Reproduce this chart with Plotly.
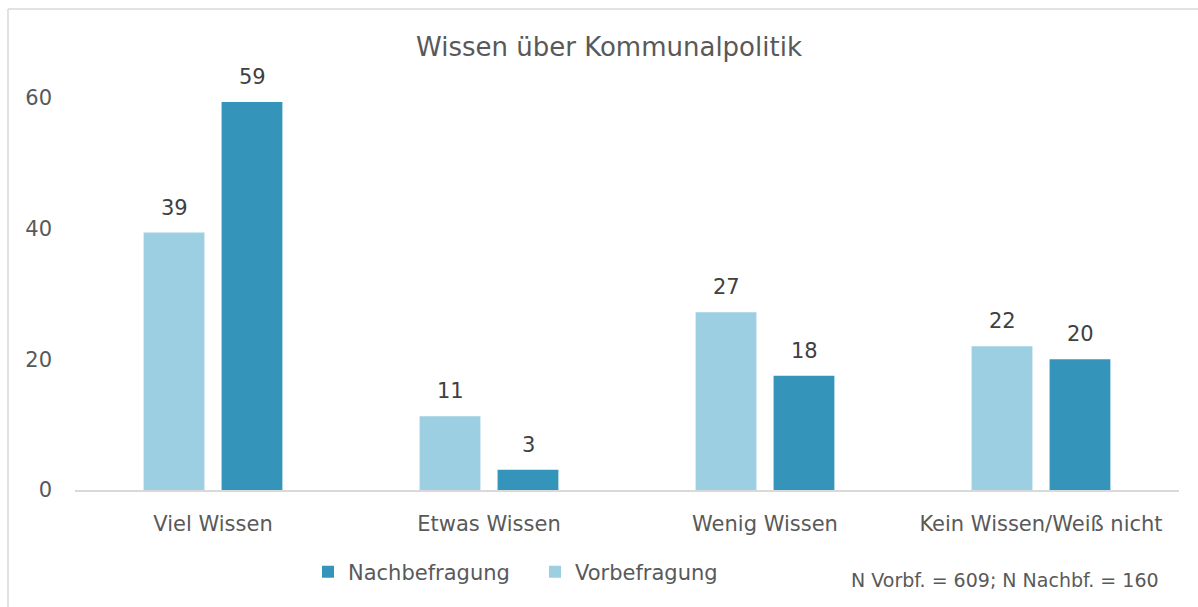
import plotly.graph_objects as go

categories = ["Viel Wissen", "Etwas Wissen", "Wenig Wissen", "Kein Wissen/Weiß nicht"]
vorbefragung = [39.4, 11.3, 27.2, 22.0]
nachbefragung = [59.4, 3.1, 17.5, 20.0]
vorb_labels = ["39", "11", "27", "22"]
nachb_labels = ["59", "3", "18", "20"]
y_ticks = [0, 20, 40, 60]

W, H = 1198, 607
L, R, T, B = 75, 19, 98, 117
PW, PH = W - L - R, H - T - B

FONT = "DejaVu Sans"
GRAY = "#595959"
DARK = "#404040"
C_VOR = "#9DCFE3"
C_NACH = "#3494BA"
LINE = "#D9D9D9"

fig = go.Figure()
fig.add_trace(go.Bar(name="Vorbefragung", x=categories, y=vorbefragung,
                     marker=dict(color=C_VOR, line=dict(width=0))))
fig.add_trace(go.Bar(name="Nachbefragung", x=categories, y=nachbefragung,
                     marker=dict(color=C_NACH, line=dict(width=0))))

def px_x(p):
    return (p - L) / PW

def px_y(p):
    return (H - B - p) / PH

annotations = []
for i, c in enumerate(categories):
    annotations.append(dict(x=c, y=vorbefragung[i], xref="x", yref="y", text=vorb_labels[i],
                            showarrow=False, xshift=-39, yshift=25, yanchor="middle",
                            font=dict(family=FONT, size=21, color=DARK)))
    annotations.append(dict(x=c, y=nachbefragung[i], xref="x", yref="y", text=nachb_labels[i],
                            showarrow=False, xshift=39, yshift=25, yanchor="middle",
                            font=dict(family=FONT, size=21, color=DARK)))
annotations.append(dict(x=px_x(1161), y=px_y(580), xref="paper", yref="paper",
                        text="N Vorbf. = 609; N Nachbf. = 160", showarrow=False,
                        xanchor="right", yanchor="middle",
                        font=dict(family=FONT, size=19, color=GRAY)))

shapes = [
    dict(type="line", xref="paper", yref="paper", x0=px_x(8), x1=px_x(8), y0=px_y(9), y1=px_y(620),
         line=dict(color=LINE, width=1.5)),
    dict(type="line", xref="paper", yref="paper", x0=px_x(8), x1=px_x(1210), y0=px_y(9), y1=px_y(9),
         line=dict(color=LINE, width=1.5)),
]

fig.update_layout(
    width=W, height=H,
    margin=dict(l=L, r=R, t=T, b=B, autoexpand=False),
    paper_bgcolor="white", plot_bgcolor="white",
    font=dict(family=FONT, color=GRAY, size=21),
    title=dict(text="Wissen über Kommunalpolitik", x=609 / W, xanchor="center",
               y=1 - 47 / H, yanchor="middle", font=dict(family=FONT, size=26, color=GRAY)),
    barmode="group", bargap=0.435, bargroupgap=0.22,
    showlegend=True,
    legend=dict(orientation="h", traceorder="reversed", x=px_x(308), xanchor="left",
                y=px_y(572), yanchor="middle", font=dict(family=FONT, size=21, color=GRAY),
                entrywidth=182, entrywidthmode="pixels",
                bgcolor="rgba(0,0,0,0)"),
    xaxis=dict(showgrid=False, showline=True, linecolor=LINE, linewidth=2, ticks="",
               ticklabelstandoff=14, tickfont=dict(family=FONT, size=21, color=GRAY),
               zeroline=False, fixedrange=True),
    yaxis=dict(range=[0, 60], tickvals=y_ticks, showgrid=False, showline=False, zeroline=False,
               ticks="", ticklabelstandoff=22, tickfont=dict(family=FONT, size=21, color=GRAY)),
    annotations=annotations,
    shapes=shapes,
)
for tr in fig.data:
    tr.cliponaxis = False

fig.write_html("out.html", config={"displayModeBar": False},
               post_script="document.body.style.margin='0';document.body.style.overflow='hidden';")
